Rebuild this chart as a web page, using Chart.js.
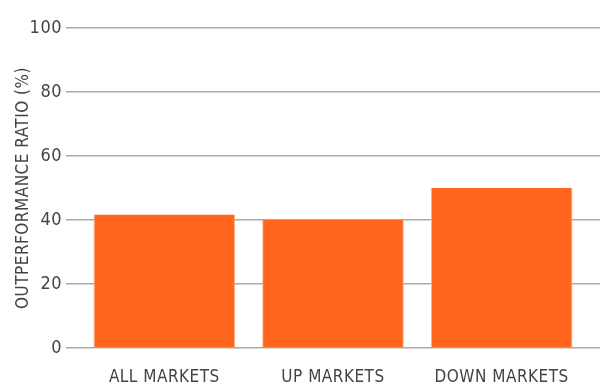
<!DOCTYPE html>
<html><head><meta charset="utf-8">
<script src="https://cdn.jsdelivr.net/npm/chart.js@4/dist/chart.umd.min.js"></script>
<style>html,body{margin:0;padding:0;background:#fff}#w{width:615px;height:389px}</style>
</head><body><div id="w"><canvas id="c"></canvas></div>
<script>
const categories = ["ALL MARKETS", "UP MARKETS", "DOWN MARKETS"];
const outperformance = [41.7, 40, 50];
const yTicks = [0, 20, 40, 60, 80, 100];
const yTitle = "OUTPERFORMANCE RATIO (%)";

const FONT = "'DejaVu Sans Condensed',sans-serif";
const GRID = "#aaaaaa";
const TXT = "#444444";
Chart.defaults.font.family = FONT;
Chart.defaults.color = TXT;

const spacing = {
  id: "spacing",
  beforeInit(chart) { chart.ctx.letterSpacing = "0.5px"; },
  beforeDraw(chart) { chart.ctx.letterSpacing = "0.5px"; }
};

new Chart(document.getElementById("c"), {
  type: "bar",
  plugins: [spacing],
  data: { labels: categories, datasets: [{ data: outperformance, backgroundColor: "#ff651c", borderColor: "#ffb58f", borderWidth: {left:1,right:1,top:0,bottom:0}, borderSkipped: false, barPercentage: 0.84, categoryPercentage: 1 }] },
  options: {
    responsive: true, maintainAspectRatio: false, animation: false,
    devicePixelRatio: 1,
    layout: { padding: { top: 28, left: 0, right: 0, bottom: 0 } },
    plugins: { legend: { display: false }, tooltip: { enabled: false } },
    scales: {
      x: {
        grid: { display: false },
        border: { display: false },
        ticks: { padding: 11, font: { size: 17 }, color: TXT },
        afterFit(s) { s.height = 41; }
      },
      y: {
        min: 0, max: 100,
        afterBuildTicks(s) { s.ticks = yTicks.map(v => ({ value: v })); },
        grid: { color: GRID, lineWidth: 1.5, tickLength: 14, tickColor: GRID },
        border: { display: false },
        ticks: { padding: 4, font: { size: 18 }, color: TXT },
        title: { display: true, text: yTitle, font: { size: 17 }, color: TXT, padding: { top: 13, bottom: 0 } },
        afterFit(s) { s.width = 80; }
      },
      y2: {
        position: "right", min: 0, max: 100,
        afterBuildTicks(s) { s.ticks = yTicks.map(v => ({ value: v })); },
        grid: { drawOnChartArea: false, color: GRID, lineWidth: 1.5, tickLength: 14, tickColor: GRID },
        border: { display: false },
        ticks: { display: false },
        afterFit(s) { s.width = 29; }
      }
    }
  }
});
</script></body></html>
